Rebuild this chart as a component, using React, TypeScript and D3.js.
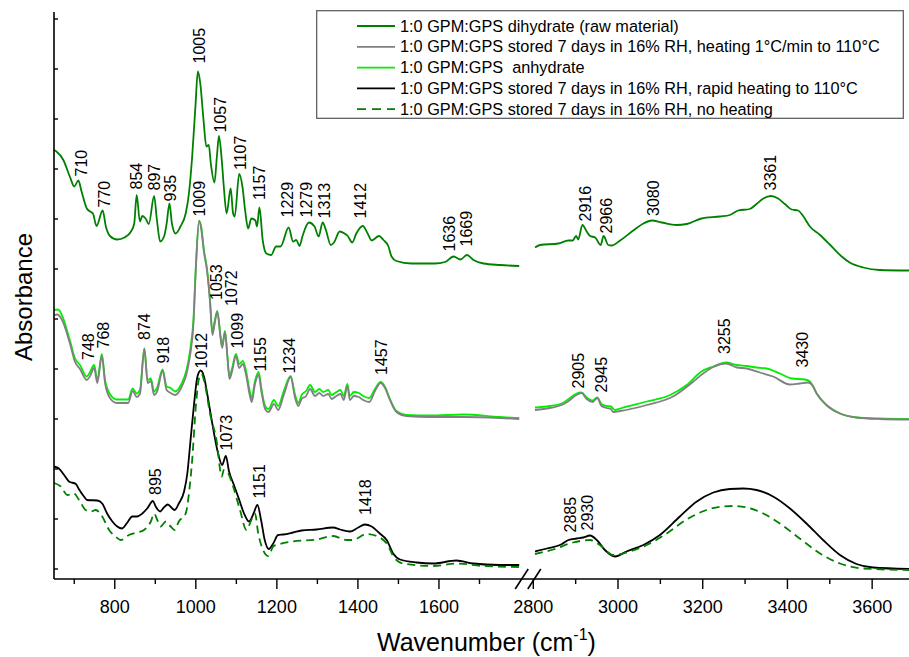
import * as d3 from "d3";

type Pt = [number, number];

// wavenumber (cm-1), absorbance (a.u., offset spectra)
const dihydrateLow: Pt[] = [
  [650, 0.838], [656, 0.835], [673, 0.818], [689, 0.785], [700, 0.765], [710, 0.777], [718, 0.755],
  [731, 0.721], [739, 0.715], [746, 0.711], [755, 0.686], [770, 0.717], [778, 0.685], [788, 0.666],
  [806, 0.659], [824, 0.663], [840, 0.675], [848, 0.691], [854, 0.748], [862, 0.695], [868, 0.706],
  [876, 0.701], [884, 0.69], [897, 0.746], [904, 0.698], [912, 0.655], [922, 0.666], [928, 0.691],
  [935, 0.731], [941, 0.691], [950, 0.671], [962, 0.685], [975, 0.711], [983, 0.751], [991, 0.825],
  [999, 0.925], [1005, 0.995], [1011, 0.971], [1019, 0.898], [1026, 0.845], [1032, 0.848],
  [1037, 0.811], [1046, 0.773], [1052, 0.825], [1057, 0.866], [1064, 0.818], [1069, 0.765],
  [1076, 0.711], [1086, 0.761], [1092, 0.711], [1096, 0.705], [1107, 0.79], [1115, 0.765],
  [1122, 0.715], [1129, 0.681], [1137, 0.701], [1147, 0.697], [1151, 0.685], [1157, 0.723],
  [1165, 0.658], [1174, 0.631], [1186, 0.628], [1198, 0.645], [1209, 0.645], [1229, 0.683],
  [1240, 0.655], [1248, 0.658], [1256, 0.646], [1263, 0.665], [1279, 0.693], [1293, 0.685],
  [1303, 0.665], [1313, 0.693], [1321, 0.678], [1333, 0.648], [1341, 0.653], [1355, 0.675],
  [1367, 0.671], [1375, 0.666], [1386, 0.653], [1396, 0.671], [1412, 0.686], [1424, 0.671],
  [1434, 0.657], [1452, 0.666], [1463, 0.658], [1475, 0.646], [1483, 0.625], [1495, 0.616],
  [1532, 0.611], [1590, 0.611], [1615, 0.614], [1636, 0.625], [1653, 0.619], [1669, 0.628],
  [1685, 0.618], [1710, 0.611], [1751, 0.608], [1798, 0.606],
];
const dihydrateHigh: Pt[] = [
  [2804, 0.643], [2816, 0.648], [2859, 0.651], [2883, 0.657], [2893, 0.657], [2901, 0.666],
  [2906, 0.659], [2916, 0.688], [2926, 0.675], [2934, 0.666], [2946, 0.663], [2959, 0.648],
  [2966, 0.666], [2977, 0.648], [2985, 0.647], [3005, 0.657], [3036, 0.677], [3060, 0.691],
  [3080, 0.697], [3103, 0.693], [3138, 0.688], [3162, 0.69], [3197, 0.701], [3241, 0.705],
  [3264, 0.708], [3284, 0.717], [3311, 0.72], [3327, 0.73], [3343, 0.741], [3361, 0.746],
  [3378, 0.741], [3394, 0.73], [3410, 0.719], [3425, 0.717], [3437, 0.706], [3453, 0.685],
  [3477, 0.668], [3500, 0.649], [3528, 0.625], [3547, 0.613], [3579, 0.603], [3618, 0.598],
  [3687, 0.597],
];

const slowHeatLow: Pt[] = [
  [650, 0.508], [658, 0.509], [670, 0.498], [689, 0.452], [702, 0.414], [714, 0.4], [731, 0.378],
  [739, 0.386], [749, 0.402], [757, 0.372], [768, 0.426], [776, 0.372], [788, 0.342], [805, 0.332],
  [833, 0.332], [844, 0.356], [854, 0.344], [862, 0.35], [873, 0.44], [881, 0.372], [889, 0.376],
  [897, 0.348], [904, 0.354], [918, 0.396], [928, 0.358], [938, 0.352], [949, 0.348], [965, 0.364],
  [977, 0.39], [986, 0.428], [994, 0.488], [1000, 0.598], [1008, 0.696], [1013, 0.682],
  [1020, 0.634], [1028, 0.594], [1035, 0.534], [1041, 0.468], [1046, 0.488], [1053, 0.514],
  [1061, 0.462], [1065, 0.442], [1072, 0.474], [1078, 0.422], [1083, 0.38], [1089, 0.394],
  [1099, 0.426], [1107, 0.402], [1116, 0.41], [1124, 0.388], [1133, 0.348], [1138, 0.334],
  [1146, 0.37], [1155, 0.388], [1162, 0.354], [1171, 0.32], [1179, 0.314], [1193, 0.33],
  [1203, 0.318], [1217, 0.348], [1234, 0.384], [1245, 0.342], [1253, 0.326], [1261, 0.34],
  [1272, 0.346], [1282, 0.36], [1294, 0.346], [1305, 0.352], [1314, 0.346], [1327, 0.35],
  [1335, 0.34], [1347, 0.346], [1357, 0.35], [1365, 0.338], [1374, 0.366], [1380, 0.338],
  [1390, 0.346], [1402, 0.344], [1413, 0.338], [1428, 0.334], [1442, 0.356], [1456, 0.372],
  [1467, 0.362], [1479, 0.338], [1495, 0.314], [1520, 0.306], [1578, 0.304], [1660, 0.304],
  [1750, 0.302], [1798, 0.3],
];
const slowHeatHigh: Pt[] = [
  [2804, 0.318], [2839, 0.322], [2867, 0.328], [2880, 0.334], [2902, 0.348], [2914, 0.352],
  [2926, 0.34], [2940, 0.334], [2951, 0.342], [2961, 0.326], [2973, 0.322], [2983, 0.32],
  [2989, 0.314], [3005, 0.316], [3068, 0.328], [3130, 0.345], [3178, 0.375], [3201, 0.391],
  [3225, 0.404], [3255, 0.411], [3280, 0.403], [3304, 0.401], [3335, 0.393], [3366, 0.385],
  [3406, 0.369], [3429, 0.371], [3449, 0.373], [3461, 0.365], [3469, 0.351], [3492, 0.328],
  [3524, 0.311], [3563, 0.303], [3618, 0.3], [3687, 0.299],
];

const anhydrateLow: Pt[] = [
  [650, 0.518], [660, 0.519], [671, 0.505], [689, 0.458], [702, 0.421], [714, 0.408], [731, 0.385],
  [739, 0.394], [749, 0.408], [757, 0.378], [768, 0.43], [776, 0.378], [788, 0.35], [805, 0.339],
  [833, 0.339], [844, 0.361], [854, 0.351], [862, 0.358], [873, 0.441], [881, 0.378], [889, 0.381],
  [897, 0.355], [904, 0.362], [918, 0.399], [928, 0.365], [938, 0.362], [949, 0.355], [965, 0.371],
  [977, 0.398], [986, 0.438], [994, 0.498], [1000, 0.606], [1008, 0.696], [1013, 0.686],
  [1020, 0.638], [1028, 0.598], [1035, 0.538], [1041, 0.472], [1046, 0.494], [1053, 0.516],
  [1061, 0.466], [1065, 0.446], [1072, 0.476], [1078, 0.426], [1083, 0.386], [1089, 0.4],
  [1099, 0.43], [1107, 0.41], [1116, 0.416], [1124, 0.396], [1133, 0.356], [1138, 0.342],
  [1146, 0.376], [1155, 0.394], [1162, 0.36], [1171, 0.326], [1179, 0.32], [1193, 0.338],
  [1203, 0.326], [1217, 0.356], [1234, 0.386], [1245, 0.348], [1253, 0.332], [1261, 0.348],
  [1272, 0.356], [1282, 0.368], [1294, 0.354], [1305, 0.36], [1314, 0.354], [1327, 0.358],
  [1335, 0.348], [1347, 0.354], [1357, 0.358], [1365, 0.346], [1374, 0.37], [1380, 0.346],
  [1390, 0.354], [1402, 0.352], [1413, 0.346], [1428, 0.342], [1442, 0.36], [1456, 0.374],
  [1467, 0.364], [1479, 0.34], [1495, 0.316], [1520, 0.308], [1578, 0.307], [1660, 0.309],
  [1750, 0.304], [1798, 0.302],
];
const anhydrateHigh: Pt[] = [
  [2804, 0.323], [2839, 0.326], [2867, 0.331], [2880, 0.338], [2902, 0.351], [2914, 0.353],
  [2926, 0.343], [2940, 0.337], [2951, 0.343], [2961, 0.33], [2973, 0.326], [2983, 0.325],
  [2993, 0.318], [3005, 0.321], [3068, 0.335], [3123, 0.348], [3162, 0.368], [3197, 0.395],
  [3225, 0.405], [3255, 0.413], [3280, 0.408], [3304, 0.406], [3327, 0.403], [3351, 0.401],
  [3382, 0.391], [3410, 0.381], [3441, 0.379], [3453, 0.375], [3469, 0.351], [3492, 0.328],
  [3524, 0.311], [3563, 0.303], [3618, 0.301], [3687, 0.3],
];

const rapidHeatLow: Pt[] = [
  [650, 0.205], [662, 0.201], [675, 0.188], [687, 0.175], [704, 0.17], [712, 0.159], [724, 0.145],
  [732, 0.138], [757, 0.137], [769, 0.131], [781, 0.111], [794, 0.095], [806, 0.085], [818, 0.081],
  [831, 0.093], [843, 0.105], [855, 0.105], [868, 0.111], [880, 0.121], [894, 0.136], [901, 0.125],
  [912, 0.115], [921, 0.123], [931, 0.129], [942, 0.121], [948, 0.118], [958, 0.131], [971, 0.155],
  [979, 0.191], [987, 0.258], [995, 0.325], [1004, 0.385], [1012, 0.397], [1020, 0.385],
  [1028, 0.351], [1037, 0.308], [1045, 0.271], [1055, 0.231], [1065, 0.208], [1074, 0.226],
  [1082, 0.195], [1094, 0.168], [1106, 0.141], [1119, 0.111], [1131, 0.095], [1142, 0.11],
  [1152, 0.128], [1161, 0.098], [1170, 0.058], [1180, 0.04], [1191, 0.051], [1203, 0.068],
  [1216, 0.069], [1240, 0.073], [1261, 0.077], [1298, 0.079], [1339, 0.083], [1356, 0.079],
  [1380, 0.075], [1401, 0.083], [1417, 0.089], [1434, 0.085], [1454, 0.071], [1471, 0.058],
  [1487, 0.031], [1504, 0.019], [1545, 0.013], [1586, 0.011], [1643, 0.017], [1684, 0.011],
  [1750, 0.008], [1798, 0.008],
];
const rapidHeatHigh: Pt[] = [
  [2804, 0.035], [2832, 0.041], [2863, 0.048], [2883, 0.058], [2902, 0.061], [2918, 0.063],
  [2934, 0.067], [2950, 0.058], [2969, 0.038], [2993, 0.025], [3020, 0.035], [3060, 0.048],
  [3099, 0.068], [3146, 0.105], [3186, 0.135], [3225, 0.153], [3264, 0.16], [3296, 0.161],
  [3327, 0.158], [3366, 0.145], [3406, 0.121], [3445, 0.091], [3484, 0.058], [3524, 0.028],
  [3563, 0.01], [3602, 0.003], [3687, 0.0],
];

const noHeatLow: Pt[] = [
  [650, 0.172], [667, 0.165], [683, 0.148], [699, 0.151], [712, 0.138], [728, 0.118], [741, 0.115],
  [753, 0.118], [769, 0.105], [786, 0.078], [802, 0.065], [815, 0.058], [835, 0.068], [855, 0.073],
  [872, 0.078], [889, 0.095], [897, 0.111], [905, 0.098], [913, 0.085], [926, 0.095], [938, 0.085],
  [948, 0.078], [958, 0.095], [975, 0.111], [983, 0.151], [991, 0.218], [1000, 0.325],
  [1008, 0.382], [1014, 0.39], [1022, 0.371], [1035, 0.311], [1051, 0.258], [1064, 0.185],
  [1069, 0.198], [1080, 0.191], [1092, 0.165], [1109, 0.118], [1125, 0.078], [1137, 0.098],
  [1146, 0.111], [1154, 0.071], [1166, 0.038], [1179, 0.026], [1191, 0.045], [1208, 0.05],
  [1240, 0.055], [1298, 0.059], [1339, 0.066], [1372, 0.058], [1388, 0.058], [1421, 0.07],
  [1454, 0.063], [1471, 0.051], [1491, 0.021], [1512, 0.011], [1586, 0.006], [1643, 0.011],
  [1709, 0.006], [1798, 0.004],
];
const noHeatHigh: Pt[] = [
  [2804, 0.03], [2847, 0.039], [2894, 0.053], [2934, 0.058], [2957, 0.048], [2989, 0.028],
  [3028, 0.035], [3068, 0.048], [3115, 0.071], [3162, 0.099], [3209, 0.118], [3248, 0.125],
  [3272, 0.126], [3304, 0.123], [3343, 0.111], [3382, 0.091], [3429, 0.061], [3477, 0.031],
  [3524, 0.011], [3579, 0.001], [3687, -0.002],
];

const seriesNames = [
  "1:0 GPM:GPS dihydrate (raw material)",
  "1:0 GPM:GPS stored 7 days in 16% RH, heating 1°C/min to 110°C",
  "1:0 GPM:GPS  anhydrate",
  "1:0 GPM:GPS stored 7 days in 16% RH, rapid heating to 110°C",
  "1:0 GPM:GPS stored 7 days in 16% RH, no heating",
];
const seriesColors = ["#008000", "#808080", "#00ee00", "#000000", "#008000"];
const seriesDash = ["", "", "", "", "8,5"];

// peak labels: text, wavenumber, absorbance at label foot
const peakLabels: [string, number, number][] = [
  ["710", 718, 0.785], ["770", 773, 0.723], ["854", 852, 0.759], ["897", 897, 0.757],
  ["935", 936, 0.735], ["1005", 1008, 1.011], ["1057", 1060, 0.873], ["1107", 1109, 0.798],
  ["1157", 1156, 0.738], ["1229", 1226, 0.703], ["1279", 1272, 0.703], ["1313", 1316, 0.701],
  ["1412", 1407, 0.701], ["1636", 1625, 0.635], ["1669", 1668, 0.645],
  ["2916", 2922, 0.695], ["2966", 2972, 0.671], ["3080", 3083, 0.706], ["3361", 3359, 0.757],
  ["748", 735, 0.418], ["768", 772, 0.441], ["874", 873, 0.458], ["918", 920, 0.411],
  ["1009", 1008, 0.705], ["1053", 1051, 0.538], ["1072", 1088, 0.526], ["1099", 1102, 0.441],
  ["1155", 1158, 0.395], ["1234", 1230, 0.391], ["1457", 1458, 0.388],
  ["2905", 2906, 0.361], ["2945", 2961, 0.353], ["3255", 3251, 0.43], ["3430", 3436, 0.403],
  ["1012", 1014, 0.401], ["895", 899, 0.148], ["1073", 1076, 0.237], ["1151", 1156, 0.141],
  ["1418", 1417, 0.108], ["2885", 2887, 0.073], ["2930", 2927, 0.077],
];

const lowMajor = [800, 1000, 1200, 1400, 1600];
const lowMinor = [700, 900, 1100, 1300, 1500, 1700];
const highMajor = [2800, 3000, 3200, 3400, 3600];
const highMinor = [2900, 3100, 3300, 3500];
const yTicks = d3.range(0, 1.15, 0.1);

const font = "'Liberation Sans', Arial, Helvetica, sans-serif";

export default function App() {
  const width = 909;
  const height = 657;

  const xLow = d3.scaleLinear().domain([650, 1800]).range([54, 520]);
  const xHigh = d3.scaleLinear().domain([2800, 3687]).range([533.3, 909]);
  const y = d3.scaleLinear().domain([-0.02, 1.114]).range([579, 12]);
  const axisY = y(-0.02);

  const lineLow = d3.line<Pt>().x((d) => xLow(d[0])).y((d) => y(d[1])).curve(d3.curveMonotoneX);
  const lineHigh = d3.line<Pt>().x((d) => xHigh(d[0])).y((d) => y(d[1])).curve(d3.curveMonotoneX);

  const data = [
    [dihydrateLow, dihydrateHigh],
    [slowHeatLow, slowHeatHigh],
    [anhydrateLow, anhydrateHigh],
    [rapidHeatLow, rapidHeatHigh],
    [noHeatLow, noHeatHigh],
  ];
  const drawOrder = [0, 2, 1, 3, 4];

  const labelSize = 16;
  const xOf = (w: number) => (w < 2000 ? xLow(w) : xHigh(w));

  const legend = { x: 316.7, y: 10.7, w: 586.6, h: 107.6, row: 20.8 };

  return (
    <svg width={width} height={height} style={{ position: "absolute", left: 0, top: 0 }} fontFamily={font}>
      <rect width={width} height={height} fill="white" />

      {drawOrder.map((i) => (
        <g key={i} fill="none" stroke={seriesColors[i]} strokeWidth={1.8} strokeDasharray={seriesDash[i]}>
          <path d={lineLow(data[i][0]) || ""} />
          <path d={lineHigh(data[i][1]) || ""} />
        </g>
      ))}

      {peakLabels.map(([t, w, v]) => (
        <text
          key={t + w}
          transform={`translate(${xOf(w) + labelSize * 0.358},${y(v)}) rotate(-90)`}
          fontSize={labelSize}
          fill="#000"
        >
          {t}
        </text>
      ))}

      {/* axes */}
      <line x1={54} x2={54} y1={12} y2={axisY} stroke="#000" strokeWidth={1.6} />
      <line x1={54} x2={width} y1={axisY} y2={axisY} stroke="#000" strokeWidth={1.6} />
      {yTicks.map((t) => (
        <line key={t} x1={54} x2={58} y1={y(t)} y2={y(t)} stroke="#000" strokeWidth={1.4} />
      ))}
      {lowMinor.map((t) => (
        <line key={t} x1={xLow(t)} x2={xLow(t)} y1={axisY} y2={axisY + 5} stroke="#000" strokeWidth={1.4} />
      ))}
      {highMinor.map((t) => (
        <line key={t} x1={xHigh(t)} x2={xHigh(t)} y1={axisY} y2={axisY + 5} stroke="#000" strokeWidth={1.4} />
      ))}
      {lowMajor.map((t) => (
        <g key={t}>
          <line x1={xLow(t)} x2={xLow(t)} y1={axisY} y2={axisY + 10} stroke="#000" strokeWidth={1.4} />
          <text x={xLow(t)} y={613} fontSize={18} textAnchor="middle">{t}</text>
        </g>
      ))}
      {highMajor.map((t) => (
        <g key={t}>
          <line x1={xHigh(t)} x2={xHigh(t)} y1={axisY} y2={axisY + 10} stroke="#000" strokeWidth={1.4} />
          <text x={xHigh(t)} y={613} fontSize={18} textAnchor="middle">{t}</text>
        </g>
      ))}
      {/* axis break */}
      {[xLow(1800) + 1.7, xHigh(2800) + 1].map((cx) => (
        <line key={cx} x1={cx - 6.5} x2={cx + 6.5} y1={axisY + 10} y2={axisY - 10} stroke="#000" strokeWidth={1.6} />
      ))}

      <text x={377} y={651} fontSize={25}>
        Wavenumber (cm
        <tspan fontSize={16} dy={-11}>-1</tspan>
        <tspan dy={11}>)</tspan>
      </text>
      <text transform="translate(32,297) rotate(-90)" fontSize={24} textAnchor="middle">
        Absorbance
      </text>

      {/* legend */}
      <rect x={legend.x} y={legend.y} width={legend.w} height={legend.h} fill="white" stroke="#555" strokeWidth={1.2} />
      {seriesNames.map((n, i) => {
        const cy = legend.y + 15.3 + i * legend.row;
        return (
          <g key={n}>
            <line x1={357} x2={395} y1={cy} y2={cy} stroke={seriesColors[i]} strokeWidth={1.8} strokeDasharray={seriesDash[i] ? "9,6" : ""} />
            <text x={400} y={cy + 5.6} fontSize={16.3} style={{ whiteSpace: "pre" }}>{n}</text>
          </g>
        );
      })}
    </svg>
  );
}
